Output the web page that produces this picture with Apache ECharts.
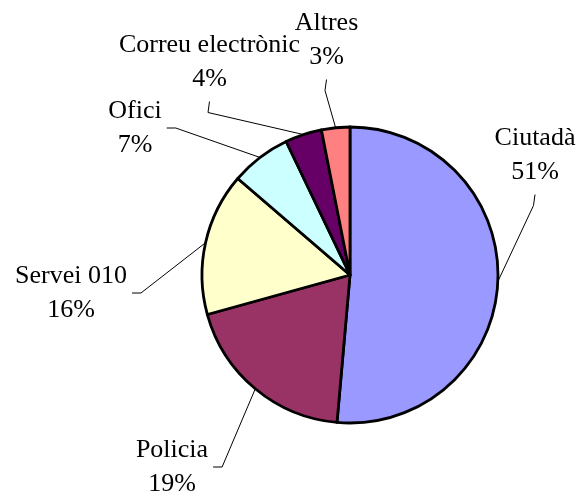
<!DOCTYPE html>
<html>
<head>
<meta charset="utf-8">
<script src="https://cdn.jsdelivr.net/npm/echarts@6/dist/echarts.min.js"></script>
<style>
  html, body { margin: 0; padding: 0; background: #ffffff; }
  #chart { width: 580px; height: 499px; }
</style>
</head>
<body>
<div id="chart"></div>
<script>
// ---- data ----
const categories = ['Ciutadà', 'Policia', 'Servei 010', 'Ofici', 'Correu electrònic', 'Altres'];
const shares = [51.4, 19.3, 15.6, 6.6, 4.0, 3.1];

// ---- styling / layout (not data) ----
const sliceColors = ['#9999FF', '#993366', '#FFFFCC', '#CCFFFF', '#660066', '#FF8080'];
// label block centre and which side of the block the leader line attaches to
const labelPlace = [
  [535, 155, 'bottom'],
  [172, 467, 'right'],
  [71, 293, 'right'],
  [135, 128, 'right'],
  [209.5, 62, 'bottom'],
  [326.5, 40, 'bottom']
];

const chart = echarts.init(document.getElementById('chart'), null, { renderer: 'canvas' });

chart.setOption({
  animation: false,
  backgroundColor: '#ffffff',
  series: [{
    type: 'pie',
    center: [350, 275],
    radius: 148,
    startAngle: 90,
    clockwise: true,
    percentPrecision: 0,
    avoidLabelOverlap: false,
    silent: true,
    data: categories.map((c, i) => ({
      name: c,
      value: shares[i],
      itemStyle: { color: sliceColors[i] }
    })),
    itemStyle: { borderColor: '#000000', borderWidth: 2.8 },
    label: {
      show: true,
      position: 'outside',
      formatter: '{b}\n{d}%',
      fontFamily: '"Liberation Serif", "Times New Roman", serif',
      fontSize: 26,
      lineHeight: 34,
      color: '#000000',
      align: 'center'
    },
    labelLine: {
      show: true,
      length: 10,
      length2: 10,
      smooth: false,
      lineStyle: { color: '#000000', width: 1 }
    },
    emphasis: { disabled: true },
    labelLayout: function (params) {
      const p = labelPlace[params.dataIndex];
      const cx = p[0], cy = p[1], side = p[2];
      const w = params.labelRect.width, h = params.labelRect.height;
      const edge = params.labelLinePoints ? params.labelLinePoints[0] : [cx, cy];
      let end, elbow;
      if (side === 'right') {
        end = [cx + w / 2 + 5, cy];
        elbow = [end[0] + 9, cy];
      } else {
        end = [cx, cy + h / 2 + 5.5];
        elbow = [cx - 1.5, end[1] + 11];
      }
      return {
        x: cx,
        y: cy,
        align: 'center',
        verticalAlign: 'middle',
        labelLinePoints: [edge, elbow, end]
      };
    }
  }]
});
</script>
</body>
</html>
